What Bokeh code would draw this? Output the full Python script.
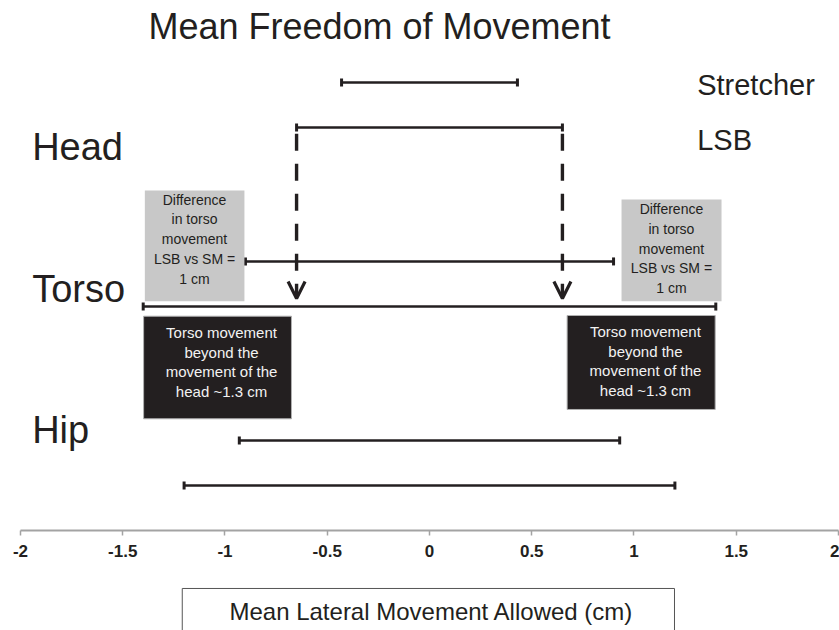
from bokeh.plotting import figure
from bokeh.models import (Range1d, FixedTicker, Whisker, TeeHead, ColumnDataSource,
                          Arrow, OpenHead)
from bokeh.core.properties import value
from bokeh.embed import file_html
from bokeh.resources import INLINE

# ---------------- data ----------------
groups = ["Head", "Torso", "Hip"]
group_pos = [3, 2, 1]
series_names = ["Stretcher", "LSB"]
stretcher_low = [-0.43, -0.90, -0.93]
stretcher_high = [0.43, 0.90, 0.93]
lsb_low = [-0.65, -1.40, -1.20]
lsb_high = [0.65, 1.40, 1.20]
x_ticks = [-2.0, -1.5, -1.0, -0.5, 0.0, 0.5, 1.0, 1.5, 2.0]
x_tick_labels = ["-2", "-1.5", "-1", "-0.5", "0", "0.5", "1", "1.5", "2"]
title_text = "Mean Freedom of Movement"
x_label_text = "Mean Lateral Movement Allowed (cm)"
diff_note = "Difference\nin torso\nmovement\nLSB vs SM =\n1 cm"
beyond_note = "Torso movement\nbeyond the\nmovement of the\nhead ~1.3 cm"

# ---------------- style ----------------
INK = "#231f20"
FONT = value("Liberation Sans")
OFF = 0.126  # vertical offset of each series within a group

p = figure(width=839, height=630, output_backend="svg", toolbar_location=None,
           title=None, y_axis_location=None,
           x_range=Range1d(-2.0978, 2.0049), y_range=Range1d(0.0642, 3.5838),
           min_border=0, min_border_left=0, min_border_right=0,
           min_border_top=0, min_border_bottom=0)
p.outline_line_color = None
p.xgrid.visible = False
p.ygrid.visible = False
p.background_fill_color = "white"
p.border_fill_color = "white"

ax = p.xaxis[0]
ax.fixed_location = 0.623
ax.bounds = (-2, 2)
ax.ticker = FixedTicker(ticks=x_ticks)
ax.major_label_overrides = {t: l for t, l in zip(x_ticks, x_tick_labels)}
ax.axis_line_color = "#a3a3a3"
ax.axis_line_width = 2
ax.major_tick_line_color = "#a3a3a3"
ax.major_tick_line_width = 1.5
ax.major_tick_in = 0
ax.major_tick_out = 5
ax.minor_tick_in = 0
ax.minor_tick_out = 0
ax.major_label_text_font = "Liberation Sans"
ax.major_label_text_font_style = "bold"
ax.major_label_text_font_size = "17px"
ax.major_label_text_color = INK
ax.major_label_standoff = 10

# ---------------- annotation boxes ----------------
# gray "difference" boxes
p.quad(left=[-1.392, 0.939], right=[-0.905, 1.428], bottom=[1.904, 1.904],
       top=[2.522, 2.472], fill_color="#c8c8c8", line_color=None)
# black "beyond" boxes
p.quad(left=[-1.398, 0.673], right=[-0.675, 1.397], bottom=[1.247, 1.299],
       top=[1.820, 1.824], fill_color=INK, line_color="#b0b0b0", line_width=1)
# x axis title box
p.quad(left=[-1.209], right=[1.198], bottom=[0.0], top=[0.299],
       fill_color="white", line_color="#555555", line_width=1)

# ---------------- error bars ----------------
src_s = ColumnDataSource(dict(base=[g + OFF for g in group_pos],
                              lower=stretcher_low, upper=stretcher_high))
src_l = ColumnDataSource(dict(base=[g - OFF for g in group_pos],
                              lower=lsb_low, upper=lsb_high))
for src in (src_s, src_l):
    p.add_layout(Whisker(source=src, base="base", lower="lower", upper="upper",
                         dimension="width", line_color=INK, line_width=2.6,
                         upper_head=TeeHead(size=8, line_color=INK, line_width=3),
                         lower_head=TeeHead(size=8, line_color=INK, line_width=3)))

# ---------------- dashed arrows ----------------
for xv in (lsb_low[0], lsb_high[0]):
    p.add_layout(Arrow(end=OpenHead(size=17, line_color=INK, line_width=3.2),
                       x_start=xv, y_start=group_pos[0] - OFF - 0.035,
                       x_end=xv, y_end=group_pos[1] - OFF + 0.045,
                       line_color=INK, line_width=3.4, line_dash="17 13"))

# ---------------- texts ----------------
p.text(x=[-0.2445], y=[3.441], text=[title_text], text_font=FONT,
       text_font_size="36px", text_color=INK, text_align="center",
       text_baseline="middle")
p.text(x=[-1.943] * 3, y=[2.765, 1.972, 1.187], text=groups, text_font=FONT,
       text_font_size="38px", text_color=INK, text_align="left",
       text_baseline="middle")
p.text(x=[1.309, 1.309], y=[3.109, 2.802], text=series_names, text_font=FONT,
       text_font_size="29px", text_color=INK, text_align="left",
       text_baseline="middle")
p.text(x=[-1.149, 1.183], y=[2.251, 2.198], text=[diff_note, diff_note],
       text_font=FONT, text_font_size="14px", text_color=INK,
       text_align="center", text_baseline="middle", text_line_height=1.235)
p.text(x=[-1.017, 1.056], y=[1.565, 1.569], text=[beyond_note, beyond_note],
       text_font=FONT, text_font_size="15px", text_color="#f2f2f2",
       text_align="center", text_baseline="middle", text_line_height=1.146)
p.text(x=[0.01], y=[0.1676], text=[x_label_text], text_font=FONT,
       text_font_size="24px", text_color=INK, text_align="center",
       text_baseline="middle")

open("out.html", "w").write(file_html(p, INLINE))
